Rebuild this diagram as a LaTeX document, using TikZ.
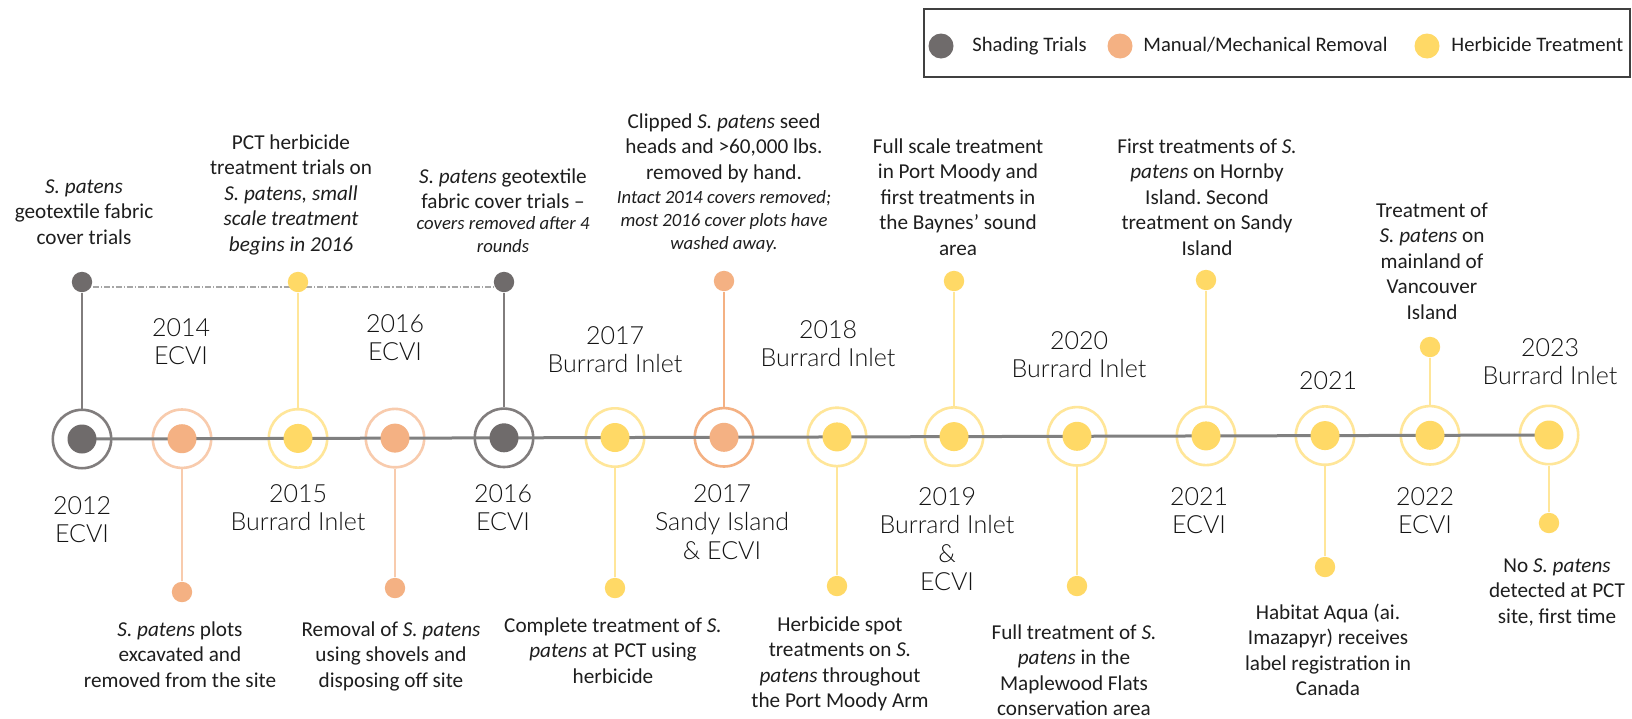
\documentclass[tikz,border=0pt]{standalone}
\usepackage{fontspec}
\setmainfont{Carlito}
\IfFontExistsTF{Lato Light}{\newfontfamily\yrfont{Lato Light}}{\newfontfamily\yrfont{Lato}}
\frenchspacing
\usetikzlibrary{backgrounds}
\definecolor{dgray}{HTML}{6F6B6B}
\definecolor{rgray}{HTML}{817D7D}
\definecolor{dorange}{HTML}{F4B183}
\definecolor{rorange}{HTML}{F8CBAD}
\definecolor{dyellow}{HTML}{FFD966}
\definecolor{ryellow}{HTML}{FFE699}
\definecolor{mainline}{HTML}{808080}
\definecolor{dashgray}{HTML}{A6A6A6}
\definecolor{txt}{HTML}{1E1E1E}
\definecolor{yrtxt}{HTML}{141414}
\definecolor{legbox}{HTML}{404040}
\begin{document}
\begin{tikzpicture}[x=0.5pt,y=-0.5pt,
  ring/.style={circle,inner sep=0pt,minimum size=29.2pt,line width=1.3pt,draw=#1},
  core/.style={circle,inner sep=0pt,minimum size=14.5pt,fill=#1},
  tip/.style={circle,inner sep=0pt,minimum size=10.2pt,fill=#1},
  stem/.style={line width=1.1pt,draw=#1},
  lgdot/.style={circle,inner sep=0pt,minimum size=12.5pt,fill=#1},
  lgtext/.style={font=\fontsize{10.3}{12.4}\selectfont,text=txt,inner sep=0pt,anchor=base west},
  yr/.style={font=\yrfont\fontsize{12.5}{14.3}\selectfont,text=yrtxt,align=center,inner sep=0pt,anchor=base},
  desc/.style={font=\fontsize{10.6}{12.8}\selectfont,text=txt,align=center,inner sep=0pt,anchor=base},
  note/.style={font=\itshape\fontsize{9.35}{11.7}\selectfont,text=txt,align=center,inner sep=0pt,anchor=base}]
\useasboundingbox (0,0) rectangle (1632,718);
\clip (0,0) rectangle (1632,718);
\begin{scope}[on background layer]
  \fill[white] (0,0) rectangle (1632,718);
\end{scope}

% legend
\draw[legbox,line width=1pt] (924,9) rectangle (1630,77);
\node[lgdot=dgray] (lg1) at (941,46) {};
\node[lgtext] (lt1) at (972,51) {Shading Trials};
\node[lgdot=dorange] (lg2) at (1120,46) {};
\node[lgtext] (lt2) at (1143,51) {Manual/Mechanical Removal};
\node[lgdot=dyellow] (lg3) at (1427,46) {};
\node[lgtext] (lt3) at (1451,51) {Herbicide Treatment};

% rings
\node[ring=rgray]   (c1)  at (82,439)    {};
\node[ring=rorange] (c2)  at (182,438.7) {};
\node[ring=ryellow] (c3)  at (298,438.4) {};
\node[ring=rorange] (c4)  at (395,438.1) {};
\node[ring=rgray]   (c5)  at (504,437.8) {};
\node[ring=ryellow] (c6)  at (615,437.5) {};
\node[ring=dorange] (c7)  at (724,437.3) {};
\node[ring=ryellow] (c8)  at (837,436.9) {};
\node[ring=ryellow] (c9)  at (954,436.6) {};
\node[ring=ryellow] (c10) at (1077,436.3) {};
\node[ring=ryellow] (c11) at (1206,435.9) {};
\node[ring=ryellow] (c12) at (1325,435.6) {};
\node[ring=ryellow] (c13) at (1430,435.3) {};
\node[ring=ryellow] (c14) at (1549,435)   {};

% main timeline
\draw[mainline,line width=1.5pt] (c1.center) -- (c14.center);

% cores
\node[core=dgray]   (k1)  at (c1)  {};
\node[core=dorange] (k2)  at (c2)  {};
\node[core=dyellow] (k3)  at (c3)  {};
\node[core=dorange] (k4)  at (c4)  {};
\node[core=dgray]   (k5)  at (c5)  {};
\node[core=dyellow] (k6)  at (c6)  {};
\node[core=dorange] (k7)  at (c7)  {};
\node[core=dyellow] (k8)  at (c8)  {};
\node[core=dyellow] (k9)  at (c9)  {};
\node[core=dyellow] (k10) at (c10) {};
\node[core=dyellow] (k11) at (c11) {};
\node[core=dyellow] (k12) at (c12) {};
\node[core=dyellow] (k13) at (c13) {};
\node[core=dyellow] (k14) at (c14) {};

% tips
\node[tip=dgray]   (t1)  at (82,282)   {};
\node[tip=dorange] (t2)  at (182,592)  {};
\node[tip=dyellow] (t3)  at (298,282)  {};
\node[tip=dorange] (t4)  at (395,588)  {};
\node[tip=dgray]   (t5)  at (504,282)  {};
\node[tip=dyellow] (t6)  at (615,588)  {};
\node[tip=dorange] (t7)  at (724,281)  {};
\node[tip=dyellow] (t8)  at (837,586)  {};
\node[tip=dyellow] (t9)  at (954,281)  {};
\node[tip=dyellow] (t10) at (1077,586) {};
\node[tip=dyellow] (t11) at (1206,280) {};
\node[tip=dyellow] (t12) at (1325,567) {};
\node[tip=dyellow] (t13) at (1430,347) {};
\node[tip=dyellow] (t14) at (1549,523) {};

% stems
\draw[stem=rgray]   (c1)  -- (t1);
\draw[stem=rorange] (c2)  -- (t2);
\draw[stem=ryellow] (c3)  -- (t3);
\draw[stem=rorange] (c4)  -- (t4);
\draw[stem=rgray]   (c5)  -- (t5);
\draw[stem=ryellow] (c6)  -- (t6);
\draw[stem=dorange] (c7)  -- (t7);
\draw[stem=ryellow] (c8)  -- (t8);
\draw[stem=ryellow] (c9)  -- (t9);
\draw[stem=ryellow] (c10) -- (t10);
\draw[stem=ryellow] (c11) -- (t11);
\draw[stem=ryellow] (c12) -- (t12);
\draw[stem=ryellow] (c13) -- (t13);
\draw[stem=ryellow] (c14) -- (t14);

% dash-dotted link between shading trials
\begin{scope}[on background layer]
  \draw[dashgray,line width=0.6pt,densely dashdotted] ([yshift=-2.5pt]t1.center) -- ([yshift=-2.5pt]t5.center);
\end{scope}

% year labels (anchor = baseline of last line)
\node[yr] (y1)  at (82,542.6)   {2012\\ECVI};
\node[yr] (y2)  at (181,364.6)  {2014\\ECVI};
\node[yr] (y3)  at (298,530.6)  {2015\\Burrard Inlet};
\node[yr] (y4)  at (395,360.6)  {2016\\ECVI};
\node[yr] (y5)  at (503,530.6)  {2016\\ECVI};
\node[yr] (y6)  at (615,372.6)  {2017\\Burrard Inlet};
\node[yr] (y7)  at (722,559.2)  {2017\\Sandy Island\\\& ECVI};
\node[yr] (y8)  at (828,366.6)  {2018\\Burrard Inlet};
\node[yr] (y9)  at (947,590.8)  {2019\\Burrard Inlet\\\&\\ECVI};
\node[yr] (y10) at (1079,377.6) {2020\\Burrard Inlet};
\node[yr] (y11) at (1199,533.6) {2021\\ECVI};
\node[yr] (y12) at (1328,389)   {2021};
\node[yr] (y13) at (1425,533.6) {2022\\ECVI};
\node[yr] (y14) at (1550,384.6) {2023\\Burrard Inlet};

% descriptions above (anchor = baseline of last line)
\node[desc] (dA) at (84,244.2) {\textit{S. patens}\\geotextile fabric\\cover trials};
\node[desc] (dB) at (291,251.4) {PCT herbicide\\treatment trials on\\\textit{S. patens, small}\\\textit{scale treatment}\\\textit{begins in 2016}};
\node[desc] (dC) at (503,208.6) {\textit{S. patens} geotextile\\fabric cover trials –};
\node[note] (nC) at (503,252.4) {covers removed after 4\\rounds};
\node[desc] (dD) at (724,179.2) {Clipped \textit{S. patens} seed\\heads and >60,000 lbs.\\removed by hand.};
\node[note] (nD) at (724,249.8) {Intact 2014 covers removed;\\most 2016 cover plots have\\washed away.};
\node[desc] (dE) at (958,255.4) {Full scale treatment\\in Port Moody and\\first treatments in\\the Baynes’ sound\\area};
\node[desc] (dF) at (1207,255.4) {First treatments of \textit{S.}\\\textit{patens} on Hornby\\Island. Second\\treatment on Sandy\\Island};
\node[desc] (dG) at (1432,319.4) {Treatment of\\\textit{S. patens} on\\mainland of\\Vancouver\\Island};

% descriptions below
\node[desc] (dH) at (180,687.2) {\textit{S. patens} plots\\excavated and\\removed from the site};
\node[desc] (dI) at (391,687.2) {Removal of \textit{S. patens}\\using shovels and\\disposing off site};
\node[desc] (dJ) at (613,683.2) {Complete treatment of \textit{S.}\\\textit{patens} at PCT using\\herbicide};
\node[desc] (dK) at (840,707.8) {Herbicide spot\\treatments on \textit{S.}\\\textit{patens} throughout\\the Port Moody Arm};
\node[desc] (dL) at (1074,715.8) {Full treatment of \textit{S.}\\\textit{patens} in the\\Maplewood Flats\\conservation area};
\node[desc] (dM) at (1328,695.8) {Habitat Aqua (ai.\\Imazapyr) receives\\label registration in\\Canada};
\node[desc] (dN) at (1557,623.2) {No \textit{S. patens}\\detected at PCT\\site, first time};
\end{tikzpicture}
\end{document}
